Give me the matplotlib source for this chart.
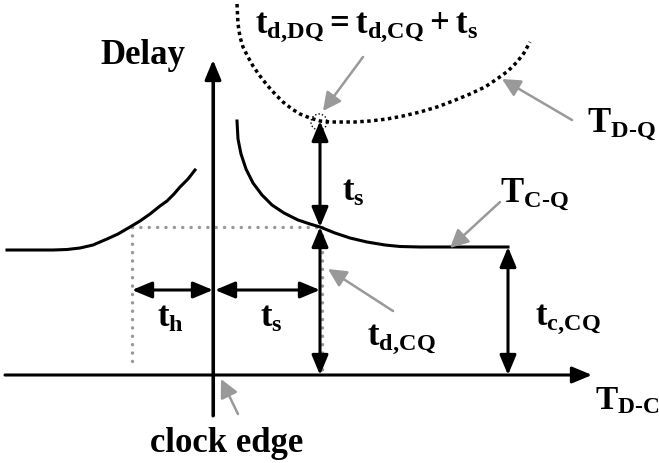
import matplotlib
matplotlib.use("Agg")
import matplotlib.pyplot as plt
from matplotlib.patches import Circle

plt.rcParams['mathtext.fontset'] = 'custom'
for k in ['rm', 'it', 'bf', 'sf']:
    plt.rcParams['mathtext.' + k] = 'Liberation Serif:bold'

# ---- data (T_D-C on x, delay on y; origin = clock edge) ----
hold_x = [-206, -160, -146, -133, -120, -106, -95, -83, -73, -63, -53, -46, -39, -33, -25, -18]
hold_y = [125, 125, 125.5, 127, 130, 136, 141, 148, 154, 161, 169, 174, 181, 188, 196, 205]

setup_x = [24, 25, 28, 33, 40, 49, 59, 71, 85, 97, 107, 122, 137, 154, 172, 187, 207, 295]
setup_y = [254, 236, 221, 206, 192, 180, 170, 162, 155, 151, 148, 142, 137, 133, 130, 128.5, 128, 128]

dq_x = [24, 25, 27, 30, 35, 40, 47, 54, 62, 70, 79, 87, 97, 107, 117, 127, 142, 157,
        174, 190, 207, 224, 240, 257, 272, 284, 295, 304, 311, 317]
dq_y = [371, 351, 338, 328, 318, 309, 299, 290, 281, 273, 266, 261, 257, 254, 253, 253, 253, 254,
        256, 259, 263, 268, 274, 281, 288, 296, 304, 313, 322, 333]

t_setup = 107      # setup time (x)
t_hold = -81       # hold time (x)
td_cq = 148        # delay at setup point
tc_cq = 128        # contamination delay level
td_dq = 254        # D-Q delay at setup point
x_flat_end = 295

BLACK = 'black'
GRAY = '#999999'

fig = plt.figure(figsize=(6.59, 4.64), dpi=100)
ax = fig.add_axes([0, 0, 1, 1])
ax.set_xlim(-213, 446)
ax.set_ylim(-88, 376)
ax.axis('off')

lw = 2.2

def arrow(p0, p1, color=BLACK, style='-|>', hl=1.2, hw=0.5, lw_=lw):
    ax.annotate('', xy=p1, xytext=p0,
                arrowprops=dict(arrowstyle=f'{style},head_length={hl},head_width={hw}',
                                color=color, lw=lw_, shrinkA=0, shrinkB=0,
                                mutation_scale=10))

# axes
arrow((-208, 0), (379, 0))
ax.plot([0, 0], [-41, 300], color=BLACK, lw=lw, solid_capstyle='butt')
arrow((0, -41), (0, 315))

# gray dotted construction lines
gdot = dict(color=GRAY, lw=2.5, linestyle=(0, (0.01, 2.4)), dash_capstyle='round')
ax.plot([t_hold, t_setup], [td_cq, td_cq], **gdot)
ax.plot([t_hold, t_hold], [td_cq, 8], **gdot)
ax.plot([t_setup + 2, t_setup + 2], [td_cq, 0], **gdot)

# curves
ax.plot(hold_x, hold_y, color=BLACK, lw=lw, solid_joinstyle='round')
ax.plot(setup_x, setup_y, color=BLACK, lw=lw, solid_joinstyle='round')
ax.plot(dq_x, dq_y, color=BLACK, lw=2.5, linestyle=(0, (1, 1)), dash_capstyle='butt')
ax.add_patch(Circle((t_setup - 1, td_dq - 1), 8, fill=False, ec=BLACK, lw=1.0,
                    linestyle=(0, (1, 1.5))))

# double arrows
arrow((t_setup, td_dq), (t_setup, td_cq), style='<|-|>')
arrow((t_setup, td_cq), (t_setup, 0), style='<|-|>')
arrow((t_hold, 85), (0, 85), style='<|-|>')
arrow((2, 85), (t_setup, 85), style='<|-|>')
arrow((x_flat_end, tc_cq), (x_flat_end, 0), style='<|-|>')

# gray pointers
arrow((150, 318), (110, 264), color=GRAY, hl=1.1, hw=0.55, lw_=1.8)
arrow((359, 255), (289, 296), color=GRAY, hl=1.1, hw=0.55, lw_=1.8)
arrow((287, 173), (237, 127), color=GRAY, hl=1.1, hw=0.55, lw_=1.8)
arrow((180, 64), (115, 106), color=GRAY, hl=1.1, hw=0.55, lw_=1.8)
arrow((25, -39), (8, -4), color=GRAY, hl=1.1, hw=0.55, lw_=1.8)

# texts
fs = 25
tk = dict(fontsize=fs, family='Liberation Serif', weight='bold',
          ha='left', va='baseline', color=BLACK)
ax.text(-113, 312, 'Delay', **tk)
ax.text(-63, -76, 'clock edge', **tk)
ax.text(42, 343, r'$\mathrm{t}_{\text{d,DQ}} = \mathrm{t}_{\text{d,CQ}} + \mathrm{t}_{\mathrm{s}}$', **tk)
ax.text(374, 244, r'$\mathrm{T}_{\text{D-Q}}$', **tk)
ax.text(287, 174, r'$\mathrm{T}_{\text{C-Q}}$', **tk)
ax.text(382, -33, r'$\mathrm{T}_{\text{D-C}}$', **{**tk, 'fontsize': 24})
ax.text(129, 175, r'$\mathrm{t}_{\mathrm{s}}$', **tk)
ax.text(-56, 49, r'$\mathrm{t}_{\mathrm{h}}$', **tk)
ax.text(47, 49, r'$\mathrm{t}_{\mathrm{s}}$', **tk)
ax.text(154, 31, r'$\mathrm{t}_{\text{d,CQ}}$', **tk)
ax.text(322, 51, r'$\mathrm{t}_{\text{c,CQ}}$', **tk)

fig.savefig('out.png', dpi=100)
